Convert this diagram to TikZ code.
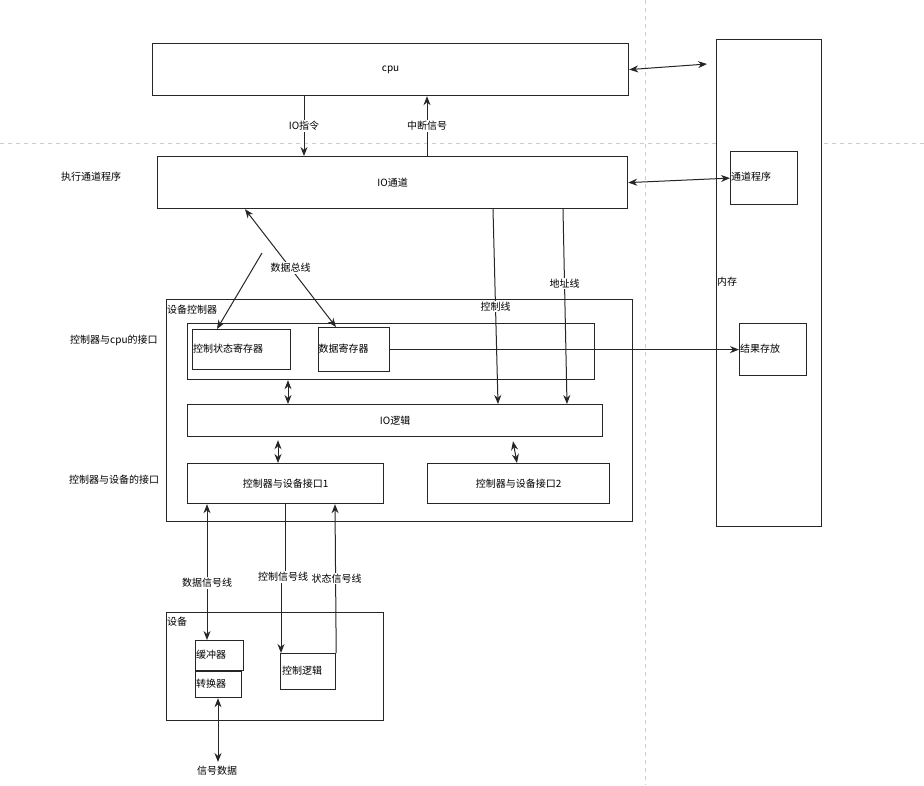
\documentclass[tikz,border=0pt]{standalone}
\usepackage{fontspec}
\setmainfont{Noto Sans CJK SC}
\usetikzlibrary{arrows.meta}
\begin{document}
\begin{tikzpicture}[x=1pt,y=-1pt,
  font=\fontsize{10}{12}\selectfont,
  box/.style={draw=black!85, line width=1.2pt, fill=white, inner sep=0pt, anchor=north west},
  lbl/.style={inner sep=1pt, fill=white},
  txt/.style={inner sep=0pt, anchor=west},
  arr/.style={draw=black!85, line width=1pt, -{Stealth[length=9pt,width=7pt]}},
  barr/.style={draw=black!85, line width=1pt, {Stealth[length=9pt,width=7pt]}-{Stealth[length=9pt,width=7pt]}},
  grid/.style={draw=black!20, line width=1pt, dash pattern=on 4pt off 4pt}]
\useasboundingbox (0,0) rectangle (924,785);
% guide lines
\draw[grid] (0,143) -- (924,143);
\draw[grid] (645,0) -- (645,785);
% boxes
\node[box, minimum width=476pt, minimum height=52pt] (cpu) at (152,43) {};
\node at (cpu.center) {cpu};
\node[box, minimum width=470pt, minimum height=52pt] (io) at (157,156) {};
\node at (io.center) {IO通道};
\node[box, minimum width=105pt, minimum height=487pt] (mem) at (716,39) {};
\node[txt] (memt) at (717,282) {内存};
\node[box, minimum width=67pt, minimum height=53pt] (chprog) at (730,151) {};
\node[txt] (chprogt) at (731,177) {通道程序};
\node[box, minimum width=67pt, minimum height=52pt] (result) at (739,323) {};
\node[txt] (resultt) at (740,349) {结果存放};
\node[box, minimum width=466pt, minimum height=222pt] (ctrl) at (166,299) {};
\node[txt] (ctrlt) at (167,310) {设备控制器};
\node[box, minimum width=407pt, minimum height=56pt] (reggrp) at (187,323) {};
\node[box, minimum width=98pt, minimum height=40pt] (csr) at (192,329) {};
\node[txt] (csrt) at (193,349) {控制状态寄存器};
\node[box, minimum width=71pt, minimum height=44pt] (dreg) at (318,327) {};
\node[txt] (dregt) at (318.5,349) {数据寄存器};
\node[box, minimum width=415pt, minimum height=32pt] (iologic) at (187,404) {};
\node at (iologic.center) {IO逻辑};
\node[box, minimum width=196pt, minimum height=40pt] (if1) at (187,463) {};
\node at (if1.center) {控制器与设备接口1};
\node[box, minimum width=182pt, minimum height=40pt] (if2) at (427,463) {};
\node at (if2.center) {控制器与设备接口2};
\node[box, minimum width=217pt, minimum height=108pt] (dev) at (166,612) {};
\node[txt] (devt) at (167,622) {设备};
\node[box, minimum width=48pt, minimum height=30pt] (buf) at (195,640) {};
\node[txt] (buft) at (196,655) {缓冲器};
\node[box, minimum width=46pt, minimum height=26pt] (conv) at (195,671) {};
\node[txt] (convt) at (196,684) {转换器};
\node[box, minimum width=55pt, minimum height=36pt] (clogic) at (280,653) {};
\node[txt] (clogict) at (282,671) {控制逻辑};
% outer labels
\node[txt] (l1) at (61,177) {执行通道程序};
\node[txt] (l2) at (70,340) {控制器与cpu的接口};
\node[txt] (l3) at (69,480) {控制器与设备的接口};
% free ends
\coordinate (m1) at (707,64);
\coordinate (db) at (262,253);
\coordinate (j1) at (283,577);
\coordinate (sig) at (218,762);
% connectors
\draw[arr] ([xshift=152pt]cpu.south west) -- node[lbl]{IO指令} ([xshift=147pt]io.north west);
\draw[arr] ([xshift=270pt]io.north west) -- node[lbl]{中断信号} ([xshift=275pt]cpu.south west);
\draw[barr] (cpu.east) -- (m1);
\draw[barr] (io.east) -- (chprog.west);
\draw[arr] ([xshift=336pt]io.south west) -- node[lbl]{控制线} ([xshift=311pt]iologic.north west);
\draw[arr] ([xshift=406pt]io.south west) -- node[lbl, pos=0.38]{地址线} ([xshift=380pt]iologic.north west);
\draw[arr] (db) -- ([xshift=25pt]csr.north west);
\draw[barr] ([xshift=88pt]io.south west) -- node[lbl]{数据总线} ([xshift=18pt]dreg.north west);
\draw[arr] (dreg.east) -- (result.west);
\draw[barr] ([xshift=101pt]reggrp.south west) -- ([xshift=101pt]iologic.north west);
\draw[barr] ([xshift=91pt,yshift=-3pt]iologic.south west) -- ([xshift=91pt]if1.north west);
\draw[barr] ([xshift=326pt,yshift=-4pt]iologic.south west) -- ([xshift=90pt]if2.north west);
\draw[barr] ([xshift=20pt]if1.south west) -- node[lbl, pos=0.58]{数据信号线} ([xshift=12pt]buf.north west);
\draw[arr] ([xshift=98pt]if1.south west) |- (j1) -| ([xshift=1pt]clogic.north west);
\node[lbl] (cl) at (j1) {控制信号线};
\draw[arr] (clogic.north east) -- node[lbl, pos=0.5, xshift=1pt]{状态信号线} ([xshift=148pt]if1.south west);
\draw[barr] ([xshift=23pt]conv.south west) -- (sig);
\node (sigt) at (217,771) {信号数据};
\end{tikzpicture}
\end{document}
